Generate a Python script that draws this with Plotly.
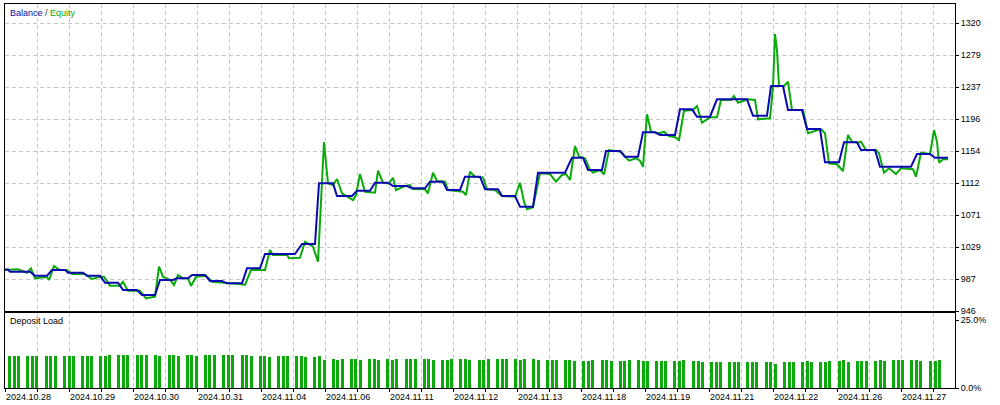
import plotly.graph_objects as go

# ---------------- data ----------------
# x is the tester's deal-step position along the chart
bal_x = [5, 8, 10, 30, 35, 47, 52, 65, 68, 83, 87, 100, 105, 118, 123, 137, 142, 155,
         160, 173, 177, 188, 192, 205, 210, 222, 227, 242, 247, 260, 265, 295, 302, 315,
         319, 333, 337, 352, 357, 370, 375, 388, 393, 407, 412, 425, 430, 443, 447, 460,
         465, 480, 485, 498, 502, 515, 520, 533, 538, 565, 572, 583, 588, 602, 606, 620,
         625, 638, 643, 655, 660, 675, 680, 692, 697, 710, 717, 747, 753, 767, 771, 783,
         788, 802, 807, 820, 825, 839, 844, 857, 861, 875, 880, 911, 917, 930, 935, 948]
bal_y = [999.9, 999.9, 997.0, 997.0, 991.8, 991.8, 999.2, 999.2, 995.7, 995.7, 991.8, 991.8,
         982.7, 982.7, 973.3, 973.3, 966.8, 966.8, 986.3, 986.3, 988.5, 988.5, 992.7, 992.7,
         985.0, 985.0, 982.0, 982.0, 1001.4, 1001.4, 1020.0, 1020.0, 1033.0, 1033.0,
         1111.8, 1111.8, 1095.3, 1095.3, 1102.2, 1102.2, 1112.6, 1112.6, 1108.3, 1108.3,
         1105.3, 1105.3, 1113.9, 1113.9, 1103.1, 1103.1, 1120.4, 1120.4, 1104.0, 1104.0,
         1095.3, 1095.3, 1081.4, 1081.4, 1125.6, 1125.6, 1145.1, 1145.1, 1129.1, 1129.1,
         1153.8, 1153.8, 1146.4, 1146.4, 1178.1, 1178.1, 1174.6, 1174.6, 1207.9, 1207.9,
         1198.3, 1198.3, 1220.9, 1220.9, 1199.6, 1199.6, 1238.2, 1238.2, 1207.0, 1207.0,
         1182.3, 1182.3, 1139.1, 1139.1, 1165.1, 1165.1, 1155.1, 1155.1, 1133.4, 1133.4,
         1149.9, 1149.9, 1145.1, 1145.1]

eq_x = [5, 18, 27, 31, 35, 47, 49, 54, 60, 67, 72, 85, 92, 100, 104, 110, 120, 123, 128,
        140, 146, 155, 159, 163, 170, 174, 178, 183, 188, 191, 196, 206, 212, 222, 227, 240,
        245, 251, 265, 270, 273, 287, 289, 300, 305, 313, 318, 324, 326, 328, 333, 337, 342,
        347, 353, 356, 360, 365, 375, 378, 383, 389, 393, 396, 405, 410, 413, 425, 428, 433,
        437, 445, 448, 463, 466, 470, 475, 483, 487, 495, 502, 515, 520, 524, 527, 533, 540,
        550, 556, 562, 566, 570, 575, 579, 585, 590, 593, 600, 604, 609, 621, 625, 629, 636,
        640, 643, 647, 651, 660, 664, 669, 675, 679, 684, 693, 697, 702, 710, 717, 721, 731,
        734, 738, 748, 755, 758, 770, 773, 775, 777, 779, 784, 788, 792, 803, 808, 812, 821,
        825, 829, 837, 843, 848, 852, 858, 861, 866, 876, 879, 884, 889, 896, 901, 913, 916,
        921, 930, 934, 937, 939, 943, 948]
eq_y = [999.2, 1000.2, 995.7, 1001.4, 988.5, 990.2, 986.3, 1004.4, 999.2, 999.2, 994.0,
        994.0, 987.6, 990.5, 990.5, 978.9, 978.9, 984.0, 972.4, 972.4, 962.5, 964.6, 1003.5,
        990.5, 986.3, 979.8, 992.7, 988.5, 988.5, 978.5, 990.5, 991.8, 984.0, 983.3, 982.0,
        981.1, 979.8, 999.2, 999.2, 1025.2, 1018.7, 1018.7, 1014.4, 1015.2, 1036.0, 1029.5,
        1010.0, 1165.5, 1138.2, 1111.8, 1109.6, 1117.4, 1098.8, 1094.4, 1090.1, 1096.6,
        1123.9, 1100.9, 1099.6, 1128.2, 1112.6, 1111.8, 1119.1, 1103.1, 1108.3, 1109.6,
        1104.4, 1104.0, 1098.8, 1125.6, 1114.8, 1113.9, 1103.1, 1100.9, 1096.6, 1126.9,
        1120.4, 1119.6, 1104.0, 1103.1, 1095.3, 1094.4, 1112.6, 1087.9, 1078.1, 1080.7,
        1124.8, 1123.9, 1113.9, 1122.6, 1123.9, 1116.1, 1160.3, 1146.4, 1144.3, 1129.1,
        1125.6, 1129.1, 1123.5, 1155.1, 1152.9, 1146.4, 1141.2, 1144.3, 1141.2, 1133.4,
        1201.4, 1178.8, 1176.8, 1178.8, 1173.3, 1171.6, 1168.1, 1206.1, 1207.0, 1212.2,
        1190.5, 1197.5, 1197.5, 1220.0, 1220.0, 1225.2, 1216.5, 1220.9, 1220.0, 1194.9,
        1196.2, 1237.3, 1305.7, 1284.9, 1238.2, 1238.2, 1243.8, 1207.0, 1207.0, 1176.8,
        1178.8, 1182.3, 1176.8, 1137.8, 1136.5, 1127.8, 1174.6, 1165.9, 1164.6, 1165.9,
        1155.1, 1155.1, 1150.8, 1125.6, 1131.3, 1123.9, 1131.3, 1130.0, 1120.4, 1151.6,
        1149.9, 1181.0, 1165.9, 1138.6, 1143.0, 1143.0]

load_x = [8, 12.7, 17.3, 26, 30.7, 35, 45, 49.3, 54, 63, 67.7, 72, 81, 85.7, 90,
          99, 103.7, 108, 117, 121.7, 126.3, 136, 140, 144.7, 154, 158.3,
          167.7, 172, 176.7, 185.7, 190.3, 194.7, 203.7, 208.3, 212.7, 222, 226.7, 231.3,
          240.5, 245.3, 250, 259, 263.3, 268, 277, 281.7, 286, 295, 299.7, 304,
          313, 317.7, 323, 332, 336.3, 341, 350, 354.3, 359, 368, 372.7, 377,
          386, 390.7, 395, 405, 409.3, 414, 423, 427.3, 432, 441, 445.7, 450,
          459, 463.7, 468, 478, 482.3, 487, 496.3, 500.7, 505.3, 514.3, 519, 523.3,
          532.3, 537, 546, 550.7, 555.3, 564, 568.3, 573, 582, 586.7, 591,
          601, 605.3, 610, 619, 623.3, 628, 637, 641.7, 646, 655, 659.7, 664.3,
          673, 677.7, 682.3, 692, 696.7, 701, 710, 714.7, 719, 728, 732.7, 737,
          746, 750.7, 755, 765, 769.3, 774, 783, 787.7, 792, 801, 805.7, 810,
          819, 823.7, 828, 838, 842.3, 847, 856, 860.3, 865, 874, 878.7, 883,
          892, 896.7, 901.3, 910, 914.7, 919.3, 929, 933.7, 938.3]
load_pct = [11.8, 11.8, 11.8, 11.8, 11.8, 11.8, 11.8, 11.8, 11.8, 11.8, 11.8, 11.8,
            11.8, 11.8, 11.8, 11.8, 11.8, 12.1, 12.1, 12.1, 12.1, 12.1, 12.1, 12.1,
            12.1, 11.8, 12.1, 12.1, 11.8, 12.1, 12.1, 11.8, 12.1, 12.1, 12.1, 12.1,
            12.1, 12.1, 12.1, 12.1, 11.8, 11.8, 11.8, 11.4, 11.8, 11.8, 11.8, 11.8,
            11.8, 11.4, 11.4, 11.8, 10.3, 10.7, 10.3, 10.7, 10.7, 10.7, 10.3, 10.7,
            10.7, 10.3, 10.7, 10.3, 10.7, 10.7, 10.7, 10.7, 10.7, 10.7, 10.3, 10.3,
            10.3, 10.7, 10.7, 10.7, 10.3, 10.3, 10.3, 10.7, 10.7, 10.7, 10.7, 10.7,
            10.3, 10.7, 10.7, 10.3, 10.3, 10.3, 10.3, 10.3, 10.3, 9.9, 9.9, 9.9,
            10.3, 10.3, 10.3, 9.9, 9.9, 9.9, 10.3, 10.3, 9.9, 9.9, 9.9, 9.9, 9.9,
            9.9, 9.9, 10.3, 9.9, 9.9, 9.4, 9.7, 9.7, 9.7, 9.7, 9.4, 9.7, 9.7, 9.7,
            9.7, 9.7, 9.7, 8.8, 9.4, 9.4, 9.7, 9.7, 10.0, 9.7, 9.7, 9.7, 10.0, 10.0,
            10.4, 9.7, 10.0, 10.0, 10.0, 10.0, 10.3, 10.0, 10.3, 10.3, 10.3, 10.3,
            10.3, 9.9, 9.9, 9.9, 10.3]

y_ticks = [946.0, 987.56, 1029.11, 1070.67, 1112.22, 1153.78, 1195.33, 1236.89, 1278.44, 1320.0]
y_labels = ["946", "987", "1029", "1071", "1112", "1154", "1196", "1237", "1279", "1320"]
date_labels = ["2024.10.28", "2024.10.29", "2024.10.30", "2024.10.31", "2024.11.04",
               "2024.11.06", "2024.11.11", "2024.11.12", "2024.11.13", "2024.11.18",
               "2024.11.19", "2024.11.21", "2024.11.22", "2024.11.26", "2024.11.27"]

# ---------------- styling ----------------
FONT = "Liberation Sans"
BLUE = "#0A0AB0"
GREEN = "#0AAA0A"
GRID = "#C8C8C8"

grid_pos = [5 + 32 * k for k in range(30)]
grid_txt = []
for k in range(30):
    grid_txt.append(date_labels[k // 2] if k % 2 == 0 else "")

fig = go.Figure()
fig.add_trace(go.Scatter(x=eq_x, y=eq_y, mode="lines", line=dict(color=GREEN, width=2),
                         xaxis="x", yaxis="y", showlegend=False))
fig.add_trace(go.Scatter(x=bal_x, y=bal_y, mode="lines", line=dict(color=BLUE, width=2),
                         xaxis="x", yaxis="y", showlegend=False))
fig.add_trace(go.Bar(x=load_x, y=load_pct, width=3, offset=0, marker_color=GREEN,
                     marker_line_width=0, xaxis="x2", yaxis="y2", showlegend=False))

axis_common = dict(showline=True, mirror=True, linecolor="black", linewidth=1,
                   zeroline=False, automargin=False)

fig.update_layout(
    width=1000, height=405,
    margin=dict(l=5, r=45, t=4, b=17, autoexpand=False),
    paper_bgcolor="white", plot_bgcolor="white",
    font=dict(family=FONT, size=9, color="black"),
    bargap=0,
    xaxis=dict(domain=[0, 1], anchor="y", range=[5, 955], tickmode="array",
               tickvals=grid_pos, showticklabels=False, ticks="",
               showgrid=True, gridcolor=GRID, griddash="4px,3px", gridwidth=1,
               **axis_common),
    yaxis=dict(domain=[0.2005, 1.0], anchor="x", side="right", range=[946, 1344.7],
               tickmode="array", tickvals=y_ticks, ticktext=y_labels,
               ticks="outside", ticklen=3, tickcolor="black",
               showgrid=True, gridcolor=GRID, griddash="4px,3px", gridwidth=1,
               **axis_common),
    xaxis2=dict(domain=[0, 1], anchor="y2", range=[5, 955], tickmode="array",
                tickvals=grid_pos, ticktext=grid_txt, ticks="outside", ticklen=3,
                tickcolor="black", ticklabelposition="outside right",
                tickfont=dict(family=FONT, size=9, color="black"),
                showgrid=True, gridcolor=GRID, griddash="4px,3px", gridwidth=1,
                **axis_common),
    yaxis2=dict(domain=[0, 0.1953], anchor="x2", side="right", range=[0, 27.6],
                tickmode="array", tickvals=[0, 25], ticktext=["0.0%", "25.0%"],
                ticks="outside", ticklen=3, tickcolor="black", showgrid=False,
                **axis_common),
    annotations=[
        dict(xref="paper", yref="paper", x=0.0032, y=0.9766, xanchor="left",
             yanchor="middle", showarrow=False,
             text=f"<span style='color:{BLUE}'>Balance</span> / "
                  f"<span style='color:{GREEN}'>Equity</span>",
             font=dict(family=FONT, size=9, color="#333")),
        dict(xref="paper", yref="paper", x=0.0032, y=0.1745, xanchor="left",
             yanchor="middle", showarrow=False, text="Deposit Load",
             font=dict(family=FONT, size=9, color="black")),
    ],
)

fig.write_html("out.html", config={"displayModeBar": False},
               post_script="document.body.style.margin='0';document.body.style.overflow='hidden';")
